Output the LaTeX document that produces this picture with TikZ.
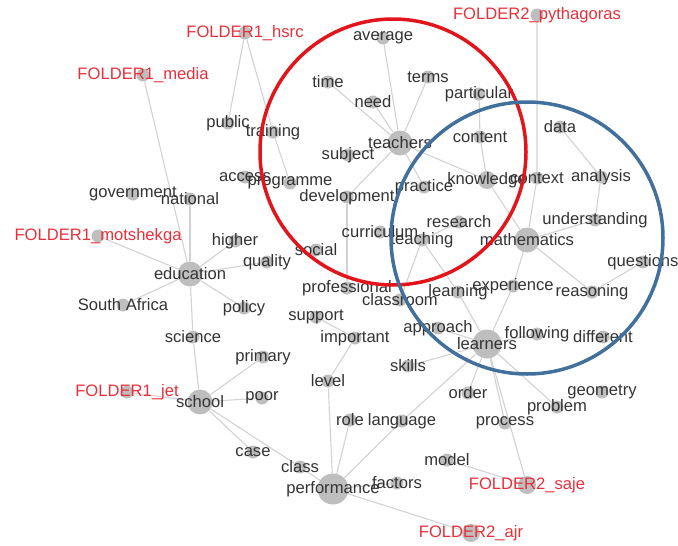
\documentclass[tikz,border=0pt]{standalone}
\usepackage{fontspec}
\setmainfont{Liberation Sans}
\usepackage{xcolor}
\definecolor{vtext}{HTML}{333333}
\definecolor{vred}{HTML}{E8303A}
\definecolor{vcirclered}{HTML}{E3151C}
\definecolor{vblue}{HTML}{41709C}
\definecolor{vedge}{HTML}{D2D2D2}
\definecolor{vdot}{HTML}{BEBEBE}

\begin{document}
\begin{tikzpicture}[x=1pt, y=-1pt,
		dot/.style={circle, fill=vdot, inner sep=0pt, minimum size=13pt},
		bigdot/.style={dot, minimum size=25pt},
		middot/.style={dot, minimum size=18pt},
		word/.style={text=vtext, inner sep=0pt, font=\fontsize{16.6}{18}\selectfont},
		folder/.style={word, text=vred},
		edge/.style={draw=vedge, line width=1.1pt}]
		\useasboundingbox (0,0) rectangle (678,546);
		% dots
		\node[dot] (hsrc) at (245,33) {};
		\node[dot] (media) at (143,75) {};
		\node[dot] (pythagoras) at (537,15) {};
		\node[dot] (motshekga) at (98,236) {};
		\node[dot] (jet) at (127,392) {};
		\node[middot] (saje) at (527,485) {};
		\node[middot] (ajr) at (471,533) {};
		\node[dot] (average) at (383,38) {};
		\node[dot] (time) at (328,82) {};
		\node[dot] (need) at (373,102) {};
		\node[dot] (terms) at (428,77) {};
		\node[dot] (particular) at (479,94) {};
		\node[dot] (public) at (228,123) {};
		\node[dot] (training) at (273,132) {};
		\node[bigdot] (teachers) at (400,143) {};
		\node[dot] (subject) at (348,155) {};
		\node[dot] (content) at (480,137) {};
		\node[dot] (data) at (560,127) {};
		\node[dot] (access) at (245,177) {};
		\node[dot] (programme) at (290,183) {};
		\node[dot] (development) at (347,197) {};
		\node[dot] (practice) at (424,187) {};
		\node[middot] (knowledge) at (487,180) {};
		\node[dot] (context) at (537,178) {};
		\node[dot] (analysis) at (601,177) {};
		\node[dot] (government) at (133,194) {};
		\node[dot] (national) at (190,199) {};
		\node[dot] (research) at (459,222) {};
		\node[dot] (curriculum) at (380,232) {};
		\node[dot] (teaching) at (422,240) {};
		\node[bigdot] (mathematics) at (527,240) {};
		\node[dot] (understanding) at (595,220) {};
		\node[dot] (higher) at (235,241) {};
		\node[dot] (social) at (316,250) {};
		\node[dot] (quality) at (267,262) {};
		\node[bigdot] (education) at (190,274) {};
		\node[dot] (questions) at (643,262) {};
		\node[dot] (professional) at (347,288) {};
		\node[dot] (classroom) at (400,300) {};
		\node[dot] (learning) at (458,292) {};
		\node[dot] (experience) at (513,286) {};
		\node[dot] (reasoning) at (592,292) {};
		\node[dot] (southafrica) at (123,305) {};
		\node[dot] (policy) at (244,308) {};
		\node[dot] (support) at (316,317) {};
		\node[dot] (important) at (355,338) {};
		\node[dot] (approach) at (438,328) {};
		\node[bigdot, minimum size=29pt] (learners) at (487,344) {};
		\node[dot] (following) at (537,334) {};
		\node[dot] (different) at (603,337) {};
		\node[dot] (science) at (193,337) {};
		\node[dot] (primary) at (263,357) {};
		\node[dot] (skills) at (408,366) {};
		\node[dot] (level) at (328,381) {};
		\node[dot] (order) at (468,393) {};
		\node[dot] (geometry) at (602,392) {};
		\node[bigdot] (school) at (200,402) {};
		\node[dot] (poor) at (262,398) {};
		\node[dot] (problem) at (557,407) {};
		\node[dot] (role) at (350,420) {};
		\node[dot] (language) at (402,421) {};
		\node[dot] (process) at (505,423) {};
		\node[dot] (case) at (253,452) {};
		\node[dot] (class) at (300,467) {};
		\node[dot] (model) at (447,460) {};
		\node[bigdot, minimum size=31pt] (performance) at (333,489) {};
		\node[dot] (factors) at (397,483) {};
		% edges
		\draw[edge] (hsrc) -- (public);
		\draw[edge] (hsrc) -- (training) -- (programme);
		\draw[edge] (media) -- (education);
		\draw[edge] (national) -- (education);
		\draw[edge] (education) -- (science) -- (school);
		\draw[edge] (motshekga) -- (education);
		\draw[edge] (education) -- (higher);
		\draw[edge] (education) -- (quality);
		\draw[edge] (education) -- (southafrica);
		\draw[edge] (education) -- (policy);
		\draw[edge] (jet) -- (school);
		\draw[edge] (school) -- (primary);
		\draw[edge] (school) -- (poor);
		\draw[edge] (school) -- (case);
		\draw[edge] (school) -- (class) -- (performance);
		\draw[edge] (performance) -- (level) -- (important) -- (support);
		\draw[edge] (performance) -- (role);
		\draw[edge] (performance) -- (language) -- (learners);
		\draw[edge] (performance) -- (factors);
		\draw[edge] (performance) -- (ajr);
		\draw[edge] (model) -- (saje);
		\draw[edge] (learners) -- (saje);
		\draw[edge] (learners) -- (process);
		\draw[edge] (learners) -- (order);
		\draw[edge] (learners) -- (skills);
		\draw[edge] (learners) -- (problem);
		\draw[edge] (learners) -- (following);
		\draw[edge] (learners) -- (approach);
		\draw[edge] (learners) -- (learning) -- (teaching);
		\draw[edge] (learners) -- (experience) -- (mathematics);
		\draw[edge] (mathematics) -- (reasoning) -- (questions);
		\draw[edge] (mathematics) -- (understanding);
		\draw[edge] (mathematics) -- (knowledge);
		\draw[edge] (mathematics) -- (context) -- (pythagoras);
		\draw[edge] (data) -- (analysis) -- (understanding);
		\draw[edge] (knowledge) -- (content) -- (particular);
		\draw[edge] (knowledge) -- (teachers);
		\draw[edge] (teachers) -- (average);
		\draw[edge] (teachers) -- (terms);
		\draw[edge] (teachers) -- (need);
		\draw[edge] (teachers) -- (time);
		\draw[edge] (teachers) -- (subject);
		\draw[edge] (teachers) -- (development);
		\draw[edge] (teachers) -- (practice);
		\draw[edge] (development) -- (professional);
		\draw[edge] (teaching) -- (research);
		\draw[edge] (teaching) -- (classroom);
		% labels
		\node[folder] at (hsrc) {FOLDER1\_hsrc};
		\node[folder] at (media) {FOLDER1\_media};
		\node[folder] at (pythagoras) {FOLDER2\_pythagoras};
		\node[folder] at (motshekga) {FOLDER1\_motshekga};
		\node[folder] at (jet) {FOLDER1\_jet};
		\node[folder] at (saje) {FOLDER2\_saje};
		\node[folder] at (ajr) {FOLDER2\_ajr};
		\node[word] at (average) {average};
		\node[word] at (time) {time};
		\node[word] at (need) {need};
		\node[word] at (terms) {terms};
		\node[word] at (particular) {particular};
		\node[word] at (public) {public};
		\node[word] at (training) {training};
		\node[word] at (teachers) {teachers};
		\node[word] at (subject) {subject};
		\node[word] at (content) {content};
		\node[word] at (data) {data};
		\node[word] at (access) {access};
		\node[word] at (programme) {programme};
		\node[word] at (development) {development};
		\node[word] at (practice) {practice};
		\node[word] at (knowledge) {knowledge};
		\node[word] at (context) {context};
		\node[word] at (analysis) {analysis};
		\node[word] at (government) {government};
		\node[word] at (national) {national};
		\node[word] at (research) {research};
		\node[word] at (curriculum) {curriculum};
		\node[word] at (teaching) {teaching};
		\node[word] at (mathematics) {mathematics};
		\node[word] at (understanding) {understanding};
		\node[word] at (higher) {higher};
		\node[word] at (social) {social};
		\node[word] at (quality) {quality};
		\node[word] at (education) {education};
		\node[word] at (questions) {questions};
		\node[word] at (professional) {professional};
		\node[word] at (classroom) {classroom};
		\node[word] at (learning) {learning};
		\node[word] at (experience) {experience};
		\node[word] at (reasoning) {reasoning};
		\node[word] at (southafrica) {South Africa};
		\node[word] at (policy) {policy};
		\node[word] at (support) {support};
		\node[word] at (important) {important};
		\node[word] at (approach) {approach};
		\node[word] at (learners) {learners};
		\node[word] at (following) {following};
		\node[word] at (different) {different};
		\node[word] at (science) {science};
		\node[word] at (primary) {primary};
		\node[word] at (skills) {skills};
		\node[word] at (level) {level};
		\node[word] at (order) {order};
		\node[word] at (geometry) {geometry};
		\node[word] at (school) {school};
		\node[word] at (poor) {poor};
		\node[word] at (problem) {problem};
		\node[word] at (role) {role};
		\node[word] at (language) {language};
		\node[word] at (process) {process};
		\node[word] at (case) {case};
		\node[word] at (class) {class};
		\node[word] at (model) {model};
		\node[word] at (performance) {performance};
		\node[word] at (factors) {factors};
		% topic circles
		\draw[color=vcirclered, line width=3.5pt] (393,152) circle (133);
		\draw[color=vblue, line width=3.5pt] (527,238) circle (136);
\end{tikzpicture}
\end{document}
